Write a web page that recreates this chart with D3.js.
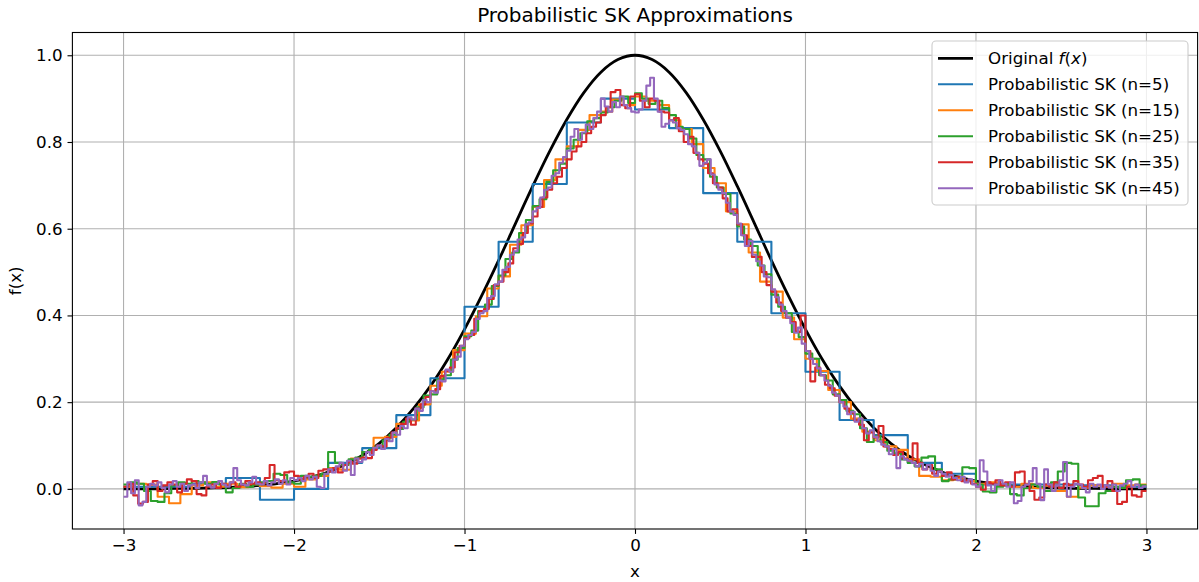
<!DOCTYPE html>
<html>
<head>
<meta charset="utf-8">
<script src="https://d3js.org/d3.v7.min.js"></script>
<style>
  body { margin: 0; background: #fff; }
  svg text { font-family: "DejaVu Sans", sans-serif; fill: #000; }
</style>
</head>
<body>
<script>
// ---- data ----
var xTicks = [-3, -2, -1, 0, 1, 2, 3];
var yTicks = [0, 0.2, 0.4, 0.6, 0.8, 1.0];

// original f(x), sampled every 0.1 from -3 to 3
var origX = d3.range(-30, 31).map(function(i) { return i / 10; });
var origY = [0.000, 0.000, 0.000, 0.001, 0.001, 0.002, 0.003, 0.005, 0.008, 0.012,
             0.018, 0.027, 0.039, 0.056, 0.077, 0.105, 0.141, 0.185, 0.237, 0.298,
             0.368, 0.445, 0.527, 0.613, 0.698, 0.779, 0.852, 0.914, 0.961, 0.990,
             1.000,
             0.990, 0.961, 0.914, 0.852, 0.779, 0.698, 0.613, 0.527, 0.445, 0.368,
             0.298, 0.237, 0.185, 0.141, 0.105, 0.077, 0.056, 0.039, 0.027, 0.018,
             0.012, 0.008, 0.005, 0.003, 0.002, 0.001, 0.001, 0.000, 0.000, 0.000];

// step values, one per interval of width 1/n starting at x = -3
var sk5 = [0.005, 0.005, 0.012, 0.025, -0.025, 0.000, 0.060, 0.094, 0.170, 0.255,
           0.420, 0.570, 0.703, 0.845, 0.900, 0.875, 0.832, 0.682, 0.570, 0.405,
           0.270, 0.159, 0.124, 0.060, 0.035, 0.010, 0.010, 0.010, 0.008, 0.005];

var sk15 = [0.005, 0.012, 0.010, -0.018, -0.033, -0.012, 0.008, 0.015, 0.005, 0.012,
            0.004, 0.010, 0.006, 0.003, 0.012, 0.005, 0.022, 0.030, 0.048, 0.044,
            0.070, 0.085, 0.118, 0.120, 0.150, 0.158, 0.195, 0.238, 0.270, 0.320,
            0.358, 0.398, 0.462, 0.490, 0.563, 0.608, 0.650, 0.712, 0.760, 0.790,
            0.828, 0.862, 0.870, 0.898, 0.885, 0.905, 0.895, 0.885, 0.850, 0.830,
            0.795, 0.740, 0.705, 0.640, 0.610, 0.545, 0.478, 0.455, 0.395, 0.345,
            0.300, 0.272, 0.228, 0.200, 0.162, 0.132, 0.112, 0.098, 0.090, 0.068,
            0.030, 0.028, 0.020, 0.025, 0.018, 0.012, 0.015, 0.010, 0.005, 0.012,
            0.002, 0.008, -0.005, -0.018, 0.003, 0.008, 0.005, 0.012, 0.008, 0.010];

var sk25 = [0.010, 0.015, 0.012, -0.005, -0.028, -0.030, -0.010, 0.008, 0.015, 0.012,
            0.018, 0.015, 0.012, 0.016, 0.010, -0.008, 0.002, 0.012, 0.005, 0.010,
            0.015, 0.018, 0.035, 0.032, 0.015, 0.012, 0.030, 0.028, 0.030, 0.035,
            0.085, 0.060, 0.055, 0.068, 0.072, 0.085, 0.090, 0.098, 0.112, 0.125,
            0.138, 0.155, 0.160, 0.188, 0.215, 0.218, 0.252, 0.262, 0.298, 0.325,
            0.352, 0.365, 0.410, 0.425, 0.468, 0.492, 0.530, 0.545, 0.590, 0.620,
            0.652, 0.668, 0.708, 0.735, 0.750, 0.785, 0.805, 0.820, 0.848, 0.855,
            0.868, 0.880, 0.895, 0.905, 0.890, 0.912, 0.900, 0.888, 0.895, 0.878,
            0.862, 0.835, 0.830, 0.808, 0.770, 0.760, 0.720, 0.695, 0.680, 0.635,
            0.605, 0.575, 0.560, 0.515, 0.495, 0.448, 0.420, 0.405, 0.362, 0.350,
            0.312, 0.300, 0.262, 0.250, 0.218, 0.205, 0.180, 0.172, 0.140, 0.108,
            0.122, 0.108, 0.088, 0.082, 0.068, 0.060, 0.052, 0.072, 0.075, 0.045,
            0.018, 0.022, 0.028, 0.050, 0.048, 0.010, -0.006, -0.008, 0.005, 0.012,
            -0.012, -0.015, 0.002, 0.010, 0.005, -0.005, 0.015, 0.040, 0.060, 0.058,
            -0.020, -0.040, -0.040, -0.010, -0.005, 0.005, 0.002, 0.020, 0.022, 0.008];

var sk35 = [0.005, 0.012, -0.015, -0.034, -0.030, 0.010, 0.018,
            -0.005, 0.008, 0.015, 0.010, -0.008, 0.012, 0.022,
            0.018, -0.012, -0.015, 0.005, 0.010, 0.002, 0.012,
            0.008, 0.015, 0.005, 0.010, 0.018, 0.012, 0.015,
            0.012, 0.025, 0.055, 0.020, 0.018, 0.038, 0.040,
            0.030, 0.022, 0.028, 0.035, 0.025, 0.042, 0.045,
            0.040, 0.048, 0.038, 0.055, 0.062, 0.058, 0.070,
            0.072, 0.071, 0.090, 0.100, 0.098, 0.118, 0.130,
            0.140, 0.150, 0.162, 0.148, 0.185, 0.195, 0.212,
            0.225, 0.230, 0.260, 0.272, 0.280, 0.315, 0.330,
            0.348, 0.355, 0.392, 0.410, 0.415, 0.438, 0.470,
            0.478, 0.500, 0.520, 0.555, 0.565, 0.590, 0.612,
            0.628, 0.650, 0.672, 0.690, 0.705, 0.720, 0.740,
            0.760, 0.778, 0.790, 0.800, 0.820, 0.835, 0.845,
            0.862, 0.880, 0.915, 0.920, 0.885, 0.878, 0.905,
            0.910, 0.895, 0.880, 0.900, 0.895, 0.870, 0.868,
            0.850, 0.855, 0.825, 0.800, 0.812, 0.775, 0.760,
            0.750, 0.728, 0.705, 0.695, 0.670, 0.640, 0.645,
            0.610, 0.585, 0.560, 0.535, 0.535, 0.500, 0.470,
            0.455, 0.430, 0.410, 0.395, 0.385, 0.362, 0.400,
            0.318, 0.248, 0.280, 0.262, 0.240, 0.232, 0.215,
            0.200, 0.185, 0.175, 0.158, 0.148, 0.112, 0.130,
            0.118, 0.145, 0.098, 0.092, 0.078, 0.085, 0.070,
            0.065, 0.105, 0.060, 0.045, 0.055, 0.035, 0.040,
            0.030, 0.038, 0.022, 0.028, 0.018, 0.020, 0.012,
            0.005, -0.002, 0.015, 0.012, 0.020, 0.008, 0.015,
            0.005, 0.038, 0.040, 0.010, -0.005, -0.025, -0.020,
            0.010, 0.005, 0.015, 0.002, 0.012, 0.008, 0.018,
            0.010, 0.005, 0.020, 0.025, 0.030, 0.005, 0.018,
            -0.005, -0.035, -0.030, 0.005, -0.015, -0.018, -0.005];

var sk45 = [-0.018, 0.015, -0.010, 0.020, -0.038, -0.030, 0.005, 0.012, 0.008,
            0.015, 0.002, -0.008, 0.010, 0.018, 0.005, 0.012, -0.005, 0.008,
            0.010, 0.002, 0.015, 0.030, 0.008, 0.003, 0.012, 0.018, 0.010,
            0.005, 0.015, 0.048, 0.020, 0.010, 0.008, 0.015, 0.028, 0.012,
            0.010, 0.018, 0.008, 0.015, 0.022, 0.012, 0.020, 0.010, 0.025,
            0.020, 0.025, 0.018, 0.030, 0.022, 0.028, 0.005, 0.002, 0.035,
            0.045, 0.038, 0.052, 0.060, 0.042, 0.065, 0.032, 0.070, 0.062,
            0.068, 0.085, 0.078, 0.095, 0.100, 0.092, 0.115, 0.110, 0.130,
            0.125, 0.145, 0.140, 0.165, 0.160, 0.185, 0.180, 0.205, 0.200,
            0.225, 0.222, 0.250, 0.248, 0.275, 0.270, 0.298, 0.305, 0.330,
            0.345, 0.355, 0.362, 0.392, 0.405, 0.410, 0.440, 0.445, 0.472,
            0.478, 0.505, 0.512, 0.540, 0.548, 0.575, 0.580, 0.610, 0.615,
            0.640, 0.648, 0.672, 0.690, 0.695, 0.722, 0.728, 0.752, 0.765,
            0.780, 0.812, 0.830, 0.805, 0.822, 0.840, 0.830, 0.855, 0.870,
            0.900, 0.882, 0.870, 0.892, 0.880, 0.905, 0.885, 0.878, 0.870,
            0.868, 0.875, 0.895, 0.930, 0.948, 0.900, 0.870, 0.835, 0.842,
            0.850, 0.845, 0.832, 0.828, 0.818, 0.795, 0.790, 0.775, 0.745,
            0.752, 0.760, 0.725, 0.702, 0.690, 0.682, 0.660, 0.640, 0.632,
            0.612, 0.585, 0.560, 0.572, 0.540, 0.525, 0.515, 0.490, 0.488,
            0.460, 0.442, 0.425, 0.410, 0.395, 0.382, 0.360, 0.372, 0.335,
            0.318, 0.300, 0.288, 0.278, 0.262, 0.250, 0.238, 0.222, 0.215,
            0.200, 0.190, 0.172, 0.178, 0.155, 0.162, 0.140, 0.128, 0.135,
            0.120, 0.110, 0.102, 0.098, 0.080, 0.092, 0.048, 0.075, 0.068,
            0.065, 0.060, 0.052, 0.058, 0.045, 0.055, 0.042, 0.030, 0.040,
            0.035, 0.028, 0.032, 0.025, 0.020, 0.028, 0.015, 0.022, 0.010,
            0.005, 0.066, 0.040, 0.008, -0.005, 0.010, 0.020, 0.012, 0.005,
            0.015, -0.033, -0.028, 0.005, 0.010, 0.018, 0.048, 0.012, -0.026,
            0.045, 0.010, -0.005, 0.008, 0.020, 0.062, -0.018, 0.005, 0.012,
            0.010, 0.002, -0.008, 0.012, 0.005, 0.010, 0.000, 0.008, 0.003,
            0.010, -0.005, 0.008, 0.012, 0.018, 0.005, 0.010, 0.002, 0.006];

var seriesN = [5, 15, 25, 35, 45];
var seriesVals = [sk5, sk15, sk25, sk35, sk45];
var seriesColors = ["#1f77b4", "#ff7f0e", "#2ca02c", "#d62728", "#9467bd"];

// ---- layout ----
var W = 1199, H = 582;
var padL = 72.4, padR = 1197.6, padT = 32.5, padB = 529;
var fs = "16.7px";

var svg = d3.select("body").append("svg")
  .attr("width", W).attr("height", H);

var x = d3.scaleLinear().domain([-3.3, 3.3]).range([padL, padR]);
var y = d3.scaleLinear().domain([-0.0925, 1.0525]).range([padB, padT]);

// grid
svg.append("g").selectAll("line").data(xTicks).enter().append("line")
  .attr("x1", function(d) { return x(d); }).attr("x2", function(d) { return x(d); })
  .attr("y1", padT).attr("y2", padB)
  .attr("stroke", "#b0b0b0").attr("stroke-width", 1.1);
svg.append("g").selectAll("line").data(yTicks).enter().append("line")
  .attr("y1", function(d) { return y(d); }).attr("y2", function(d) { return y(d); })
  .attr("x1", padL).attr("x2", padR)
  .attr("stroke", "#b0b0b0").attr("stroke-width", 1.1);

// original curve
var line = d3.line()
  .x(function(d) { return x(d[0]); })
  .y(function(d) { return y(d[1]); })
  .curve(d3.curveCatmullRom);
svg.append("path")
  .attr("d", line(d3.zip(origX, origY)))
  .attr("fill", "none").attr("stroke", "#000").attr("stroke-width", 2.8)
  .attr("stroke-linejoin", "round");

// step approximations
var stepLine = d3.line()
  .x(function(d) { return x(d[0]); })
  .y(function(d) { return y(d[1]); })
  .curve(d3.curveStepAfter);
seriesVals.forEach(function(vals, s) {
  var n = seriesN[s];
  var pts = vals.map(function(v, k) { return [-3 + k / n, v]; });
  pts.push([3, vals[vals.length - 1]]);
  svg.append("path")
    .attr("d", stepLine(pts))
    .attr("fill", "none").attr("stroke", seriesColors[s]).attr("stroke-width", 2.1)
    .attr("stroke-linejoin", "round");
});

// axes
var xAxis = svg.append("g").attr("transform", "translate(0," + padB + ")")
  .call(d3.axisBottom(x).tickValues(xTicks).tickSize(4.9).tickPadding(4.9).tickFormat(d3.format("d")));
var yAxis = svg.append("g").attr("transform", "translate(" + padL + ",0)")
  .call(d3.axisLeft(y).tickValues(yTicks).tickSize(4.9).tickPadding(4.9).tickFormat(d3.format(".1f")));
[xAxis, yAxis].forEach(function(a) {
  a.select(".domain").remove();
  a.selectAll("line").attr("stroke", "#000").attr("stroke-width", 1.1);
  a.selectAll("text").style("font-size", fs).style("font-family", "DejaVu Sans, sans-serif");
});

// spines
svg.append("rect")
  .attr("x", padL).attr("y", padT).attr("width", padR - padL).attr("height", padB - padT)
  .attr("fill", "none").attr("stroke", "#000").attr("stroke-width", 1.1);

// labels
svg.append("text").attr("x", (padL + padR) / 2).attr("y", 21.5)
  .attr("text-anchor", "middle").style("font-size", "20px")
  .text("Probabilistic SK Approximations");
svg.append("text").attr("x", (padL + padR) / 2).attr("y", 577)
  .attr("text-anchor", "middle").style("font-size", fs).text("x");
svg.append("text")
  .attr("transform", "translate(21," + ((padT + padB) / 2) + ") rotate(-90)")
  .attr("text-anchor", "middle").style("font-size", fs).text("f(x)");

// legend
var leg = svg.append("g");
leg.append("rect")
  .attr("x", 932).attr("y", 41).attr("width", 256).attr("height", 164)
  .attr("rx", 4).attr("fill", "#fff").attr("fill-opacity", 0.8)
  .attr("stroke", "#cccccc").attr("stroke-width", 1.1);
var legColors = ["#000"].concat(seriesColors);
var legWidths = [2.8, 2.1, 2.1, 2.1, 2.1, 2.1];
legColors.forEach(function(c, i) {
  var cy = 58.3 + i * 26;
  leg.append("line").attr("x1", 938).attr("x2", 973).attr("y1", cy).attr("y2", cy)
    .attr("stroke", c).attr("stroke-width", legWidths[i]);
  var t = leg.append("text").attr("x", 988).attr("y", cy + 6).style("font-size", fs);
  if (i === 0) {
    t.append("tspan").text("Original ");
    t.append("tspan").style("font-style", "italic").text("f");
    t.append("tspan").text("(");
    t.append("tspan").style("font-style", "italic").text("x");
    t.append("tspan").text(")");
  } else {
    t.text("Probabilistic SK (n=" + seriesN[i - 1] + ")");
  }
});
</script>
</body>
</html>
